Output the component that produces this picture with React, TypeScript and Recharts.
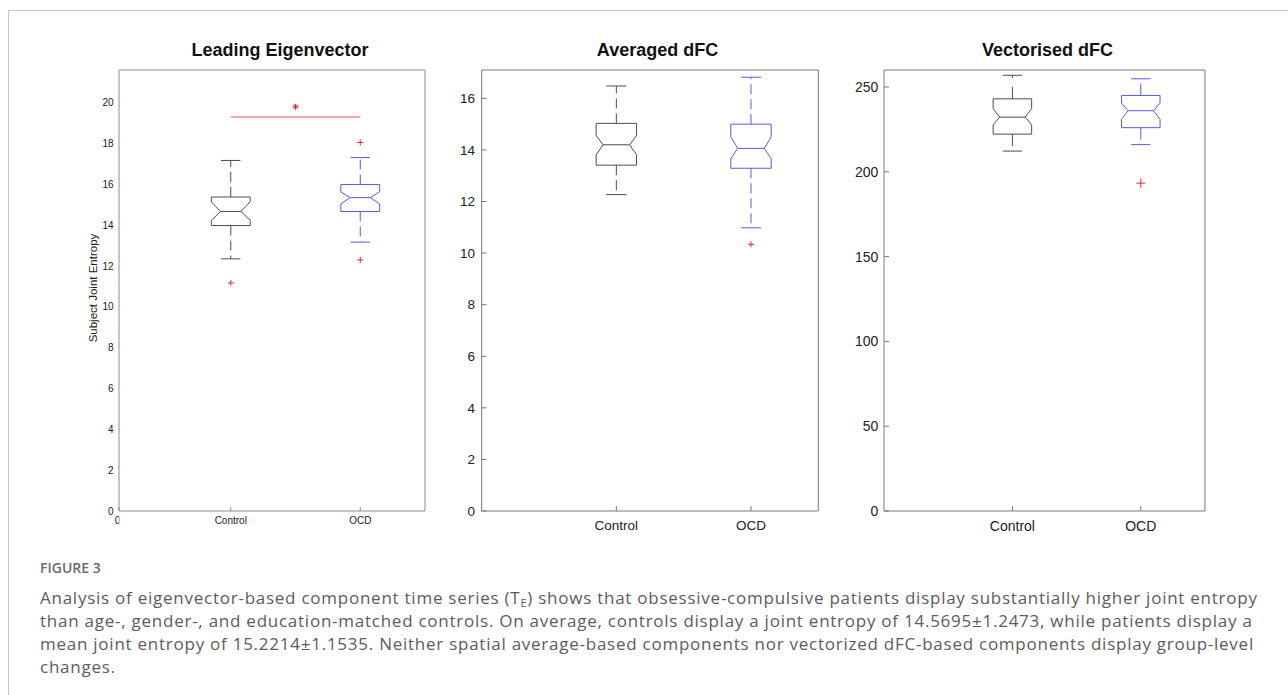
import React from "react";
import { ComposedChart, Line, Scatter, XAxis, YAxis } from "recharts";

// Three notched box plots (MATLAB style) of subject joint entropy, plus the figure caption.

const GROUPS = ["Control", "OCD"];
const GROUP_X = [1, 2];

// box stats: [lower whisker, q1, notch low, median, notch high, q3, upper whisker]
const LE_CONTROL = [12.35, 13.98, 14.24, 14.67, 15.14, 15.38, 17.17];
const LE_OCD = [13.17, 14.67, 15.04, 15.35, 15.63, 15.99, 17.31];
const LE_OUTLIERS = [[11.17], [18.05, 12.3]];
const LE_SIG = { y: 19.3, star: 19.8 };
const LE_TICKS = [0, 2, 4, 6, 8, 10, 12, 14, 16, 18, 20];

const AVG_CONTROL = [12.27, 13.41, 13.81, 14.2, 14.56, 15.03, 16.48];
const AVG_OCD = [10.98, 13.29, 13.66, 14.06, 14.51, 15.0, 16.82];
const AVG_OUTLIERS = [[], [10.34]];
const AVG_TICKS = [0, 2, 4, 6, 8, 10, 12, 14, 16];

const VEC_CONTROL = [212.2, 222.2, 227.7, 232.2, 237.2, 243, 256.9];
const VEC_OCD = [216, 226, 230.9, 236, 240.5, 245, 254.8];
const VEC_OUTLIERS = [[], [193.3]];
const VEC_TICKS = [0, 50, 100, 150, 200, 250];

const CAPTION = [
  "Analysis of eigenvector-based component time series (T",
  "than age-, gender-, and education-matched controls. On average, controls display a joint entropy of 14.5695±1.2473, while patients display a",
  "mean joint entropy of 15.2214±1.1535. Neither spatial average-based components nor vectorized dFC-based components display group-level",
  "changes.",
];

const BOX_COLORS = ["#4d4d4d", "#5a5ade"];
const RED = "#e02828";
const FONT = "'Liberation Sans', Arial, sans-serif";

type Pt = { x: number; y: number };

function boxSegments(s: number[], x: number, half: number, notch: number) {
  const [lo, q1, nLo, med, nHi, q3, hi] = s;
  const inner = half * notch;
  const cap = half / 2;
  const outline: Pt[] = [
    { x: x - half, y: q1 }, { x: x + half, y: q1 }, { x: x + half, y: nLo },
    { x: x + inner, y: med }, { x: x + half, y: nHi }, { x: x + half, y: q3 },
    { x: x - half, y: q3 }, { x: x - half, y: nHi }, { x: x - inner, y: med },
    { x: x - half, y: nLo }, { x: x - half, y: q1 },
  ];
  return {
    solid: [
      outline,
      [{ x: x - inner, y: med }, { x: x + inner, y: med }],
      [{ x: x - cap, y: hi }, { x: x + cap, y: hi }],
      [{ x: x - cap, y: lo }, { x: x + cap, y: lo }],
    ],
    dashed: [
      [{ x, y: q3 }, { x, y: hi }],
      [{ x, y: q1 }, { x, y: lo }],
    ],
  };
}

const plus = (size: number) => (p: any) => (
  <g stroke={RED} strokeWidth={1}>
    <line x1={p.cx - size} x2={p.cx + size} y1={p.cy} y2={p.cy} />
    <line x1={p.cx} x2={p.cx} y1={p.cy - size} y2={p.cy + size} />
  </g>
);

const star = (p: any) => (
  <g stroke={RED} strokeWidth={1}>
    <line x1={p.cx - 3} x2={p.cx + 3} y1={p.cy} y2={p.cy} />
    <line x1={p.cx} x2={p.cx} y1={p.cy - 3} y2={p.cy + 3} />
    <line x1={p.cx - 2.2} x2={p.cx + 2.2} y1={p.cy - 2.2} y2={p.cy + 2.2} />
    <line x1={p.cx - 2.2} x2={p.cx + 2.2} y1={p.cy + 2.2} y2={p.cy - 2.2} />
  </g>
);

type PanelCfg = {
  left: number;
  width: number;
  margin: { top: number; left: number; right: number; bottom: number };
  xDomain: [number, number];
  yMax: number;
  yTicks: number[];
  boxes: number[][];
  outliers: number[][];
  notch: number;
  fontSize: number;
  tickLen: number;
  yMargin: number;
  xMargin: number;
  leftTicks: boolean;
  rightTicks: boolean;
  plusSize: number;
  axisColor: string;
  dash: string;
  zeroLabel?: boolean;
  sig?: { y: number; star: number };
};

function BoxPanel({ cfg }: { cfg: PanelCfg }) {
  const solid: Pt[][] = [];
  const dashed: Pt[][] = [];
  const colorsSolid: string[] = [];
  const colorsDashed: string[] = [];
  cfg.boxes.forEach((s, i) => {
    const seg = boxSegments(s, GROUP_X[i], 0.15, cfg.notch);
    seg.solid.forEach((d) => { solid.push(d); colorsSolid.push(BOX_COLORS[i]); });
    seg.dashed.forEach((d) => { dashed.push(d); colorsDashed.push(BOX_COLORS[i]); });
  });
  const outlierPts: Pt[] = [];
  cfg.outliers.forEach((arr, i) => arr.forEach((y) => outlierPts.push({ x: GROUP_X[i], y })));
  const xTicks = cfg.zeroLabel ? [cfg.xDomain[0], ...GROUP_X] : GROUP_X;
  const tickStyle = { fontSize: cfg.fontSize, fill: "#222", fontFamily: FONT };

  const renderXTick = (p: any) => {
    const v = p.payload.value;
    if (v === cfg.xDomain[0]) {
      // the stray "0" of the original, half cut off at the left edge of the plot
      return (
        <g>
          <text x={p.x - 1.5} y={p.y} dy="0.71em" textAnchor="middle" style={tickStyle}>0</text>
          <rect x={p.x + 0.4} y={p.y - 2} width={5} height={cfg.fontSize + 4} fill="#fff" />
        </g>
      );
    }
    return (
      <text x={p.x} y={p.y} dy="0.71em" textAnchor="middle" style={tickStyle}>
        {GROUPS[GROUP_X.indexOf(v)]}
      </text>
    );
  };

  const h = 545;
  return (
    <div style={{ position: "absolute", left: cfg.left, top: 0 }}>
      <ComposedChart width={cfg.width} height={h} margin={cfg.margin}>
        <XAxis
          type="number"
          dataKey="x"
          domain={cfg.xDomain}
          allowDataOverflow
          ticks={xTicks}
          interval={0}
          height={1}
          tickSize={-cfg.tickLen}
          tickMargin={cfg.xMargin}
          tick={renderXTick}
          stroke={cfg.axisColor}
        />
        <XAxis
          xAxisId="t"
          orientation="top"
          type="number"
          domain={cfg.xDomain}
          allowDataOverflow
          ticks={GROUP_X}
          interval={0}
          height={1}
          tick={false}
          tickSize={-cfg.tickLen}
          stroke={cfg.axisColor}
        />
        <YAxis
          type="number"
          domain={[0, cfg.yMax]}
          allowDataOverflow
          ticks={cfg.yTicks}
          interval={0}
          width={1}
          tickSize={-cfg.tickLen}
          tickLine={cfg.leftTicks}
          tickMargin={cfg.yMargin}
          tick={tickStyle}
          stroke={cfg.axisColor}
        />
        <YAxis
          yAxisId="r"
          orientation="right"
          type="number"
          domain={[0, cfg.yMax]}
          allowDataOverflow
          ticks={cfg.yTicks}
          interval={0}
          width={1}
          tick={false}
          tickLine={cfg.rightTicks}
          tickSize={-cfg.tickLen}
          stroke={cfg.axisColor}
        />
        {dashed.map((d, i) => (
          <Line key={"d" + i} data={d} dataKey="y" stroke={colorsDashed[i]} strokeWidth={1}
            strokeDasharray={cfg.dash} dot={false} activeDot={false} isAnimationActive={false} />
        ))}
        {solid.map((d, i) => (
          <Line key={"s" + i} data={d} dataKey="y" stroke={colorsSolid[i]} strokeWidth={1}
            dot={false} activeDot={false} isAnimationActive={false} />
        ))}
        {cfg.sig && (
          <Line data={[{ x: GROUP_X[0], y: cfg.sig.y }, { x: GROUP_X[1], y: cfg.sig.y }]} dataKey="y"
            stroke="#f08c8c" strokeWidth={1.5} dot={false} activeDot={false} isAnimationActive={false} />
        )}
        {cfg.sig && (
          <Scatter data={[{ x: (GROUP_X[0] + GROUP_X[1]) / 2, y: cfg.sig.star }]} dataKey="y"
            shape={star} isAnimationActive={false} />
        )}
        <Scatter data={outlierPts} dataKey="y" shape={plus(cfg.plusSize)} isAnimationActive={false} />
      </ComposedChart>
    </div>
  );
}

const PANELS: PanelCfg[] = [
  {
    left: 0, width: 440,
    margin: { top: 69, left: 118, right: 14, bottom: 33 },
    xDomain: [0.137, 2.5], yMax: 21.6, yTicks: LE_TICKS,
    boxes: [LE_CONTROL, LE_OCD], outliers: LE_OUTLIERS, notch: 0.52,
    fontSize: 10, tickLen: 4, yMargin: 9.5, xMargin: 10, leftTicks: false, rightTicks: false,
    plusSize: 3, axisColor: "#8c8c8c", dash: "10 5", zeroLabel: true, sig: LE_SIG,
  },
  {
    left: 440, width: 400,
    margin: { top: 69, left: 40.7, right: 20.7, bottom: 33 },
    xDomain: [0, 2.5], yMax: 17.1, yTicks: AVG_TICKS,
    boxes: [AVG_CONTROL, AVG_OCD], outliers: AVG_OUTLIERS, notch: 0.66,
    fontSize: 13.5, tickLen: 5, yMargin: 11.7, xMargin: 14.5, leftTicks: true, rightTicks: true,
    plusSize: 3, axisColor: "#7a7a7a", dash: "10 5",
  },
  {
    left: 840, width: 448,
    margin: { top: 69, left: 43, right: 82, bottom: 33 },
    xDomain: [0, 2.5], yMax: 260, yTicks: VEC_TICKS,
    boxes: [VEC_CONTROL, VEC_OCD], outliers: VEC_OUTLIERS, notch: 0.66,
    fontSize: 14, tickLen: 5, yMargin: 10.7, xMargin: 15, leftTicks: true, rightTicks: true,
    plusSize: 4.5, axisColor: "#7a7a7a", dash: "12 9",
  },
];

const TITLES = [
  { text: "Leading Eigenvector", cx: 280 },
  { text: "Averaged dFC", cx: 657.5 },
  { text: "Vectorised dFC", cx: 1047.5 },
];

export default function App() {
  const captionStyle: React.CSSProperties = {
    position: "absolute", left: 40, whiteSpace: "nowrap", fontFamily: "'Open Sans', sans-serif",
    fontSize: 17, lineHeight: "23px", color: "#5c5c5c", letterSpacing: 0.75,
  };
  return (
    <div style={{ position: "absolute", left: 0, top: 0, width: 1288, height: 695, background: "#fff", overflow: "hidden" }}>
      <div style={{ position: "absolute", left: 8, top: 10, width: 1280, height: 1, background: "#c4c4c4" }} />
      <div style={{ position: "absolute", left: 8, top: 10, width: 1, height: 685, background: "#c4c4c4" }} />
      {PANELS.map((p, i) => <BoxPanel key={i} cfg={p} />)}
      {TITLES.map((t) => (
        <div key={t.text} style={{
          position: "absolute", left: t.cx - 150, top: 40, width: 300, textAlign: "center",
          fontFamily: FONT, fontWeight: 700, fontSize: 18, lineHeight: "20px", color: "#111",
        }}>{t.text}</div>
      ))}
      <div style={{
        position: "absolute", left: 93 - 100, top: 288 - 7, width: 200, height: 14, lineHeight: "14px",
        textAlign: "center", transform: "rotate(-90deg)", fontFamily: FONT, fontSize: 11.5, color: "#222",
      }}>Subject Joint Entropy</div>
      <div style={{ ...captionStyle, top: 559, fontSize: 14, lineHeight: "18px", fontWeight: 600, color: "#6a6a6a", letterSpacing: 0 }}>FIGURE 3</div>
      <div style={{ ...captionStyle, top: 586 }}>
        {CAPTION[0]}<sub style={{ fontSize: 11, verticalAlign: "-3px" }}>E</sub>
        {") shows that obsessive-compulsive patients display substantially higher joint entropy"}
      </div>
      {CAPTION.slice(1).map((line, i) => (
        <div key={i} style={{ ...captionStyle, top: 586 + 23 * (i + 1) }}>{line}</div>
      ))}
    </div>
  );
}
